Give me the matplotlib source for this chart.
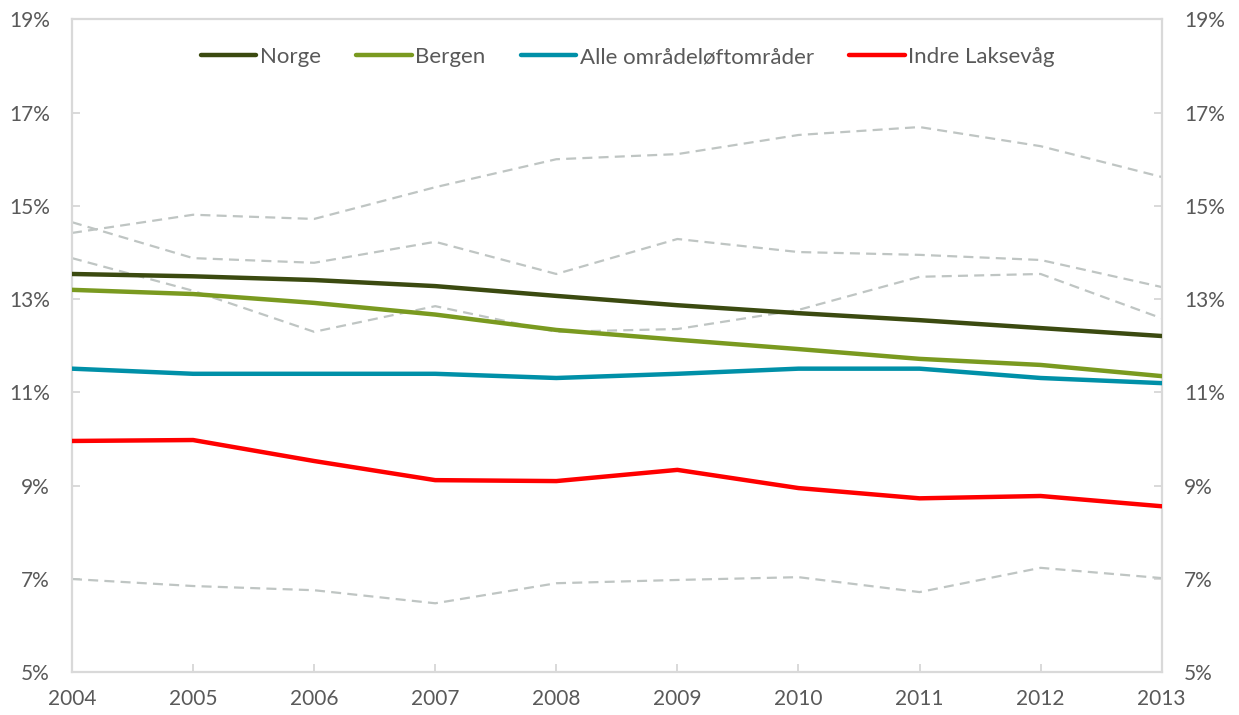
import matplotlib.pyplot as plt
from matplotlib.ticker import FuncFormatter

plt.rcParams['font.family'] = ['Lato', 'DejaVu Sans']

years = [2004, 2005, 2006, 2007, 2008, 2009, 2010, 2011, 2012, 2013]

# main series (percent)
norge = [13.54, 13.49, 13.41, 13.28, 13.07, 12.87, 12.70, 12.55, 12.38, 12.21]
bergen = [13.20, 13.11, 12.92, 12.67, 12.34, 12.13, 11.93, 11.72, 11.59, 11.35]
alle = [11.51, 11.40, 11.40, 11.40, 11.31, 11.40, 11.51, 11.51, 11.31, 11.20]
indre = [9.96, 9.98, 9.53, 9.12, 9.10, 9.34, 8.95, 8.73, 8.78, 8.56]

# other areas, grey dashed
other_a = [14.42, 14.81, 14.72, 15.40, 16.00, 16.11, 16.52, 16.69, 16.28, 15.62]
other_b = [14.65, 13.88, 13.78, 14.23, 13.54, 14.29, 14.01, 13.95, 13.84, 13.26]
other_c = [13.88, 13.18, 12.30, 12.85, 12.30, 12.36, 12.77, 13.48, 13.54, 12.59]
other_d = [7.00, 6.85, 6.76, 6.48, 6.91, 6.98, 7.04, 6.72, 7.24, 7.02]

y_ticks = [5, 7, 9, 11, 13, 15, 17, 19]

text_col = '#595959'
frame_col = '#D9D9D9'

fig = plt.figure(figsize=(12.39, 7.15), dpi=100)
ax = fig.add_axes([0.0581, 0.0597, 0.8795, 0.9133])

for s in [other_a, other_b, other_c, other_d]:
    ax.plot(years, s, color='#BFC5C3', lw=1.6, ls=(0, (4.5, 2.8)), zorder=2)

ax.plot(years, norge, color='#3B4A10', lw=3.2, label='Norge', zorder=3,
        solid_capstyle='round')
ax.plot(years, bergen, color='#7A9A20', lw=3.2, label='Bergen', zorder=3,
        solid_capstyle='round')
ax.plot(years, alle, color='#0090A8', lw=3.2, label='Alle områdeløftområder',
        zorder=3, solid_capstyle='round')
ax.plot(years, indre, color='#FF0000', lw=3.2, label='Indre Laksevåg',
        zorder=3, solid_capstyle='round')

ax.set_xlim(2004, 2013)
ax.set_ylim(5, 19)
ax.set_xticks(years)
ax.set_yticks(y_ticks)
ax.yaxis.set_major_formatter(FuncFormatter(lambda v, p: f'{v:.0f}%'))

for sp in ax.spines.values():
    sp.set_color(frame_col)
    sp.set_linewidth(1.6)

ax.tick_params(axis='y', direction='in', length=6, width=1.4, color=frame_col,
               labelcolor=text_col, labelsize=15, pad=16,
               right=True, labelright=True)
ax.tick_params(axis='x', direction='in', length=6, width=1.4, color=frame_col,
               labelcolor=text_col, labelsize=15, pad=12)

leg = ax.legend(loc='center', bbox_to_anchor=(0.51, 0.942), ncol=4,
                frameon=False, fontsize=16, handlelength=2.5,
                handletextpad=0.15, columnspacing=1.6)
for t in leg.get_texts():
    t.set_color(text_col)

fig.savefig('out.png', dpi=100)
